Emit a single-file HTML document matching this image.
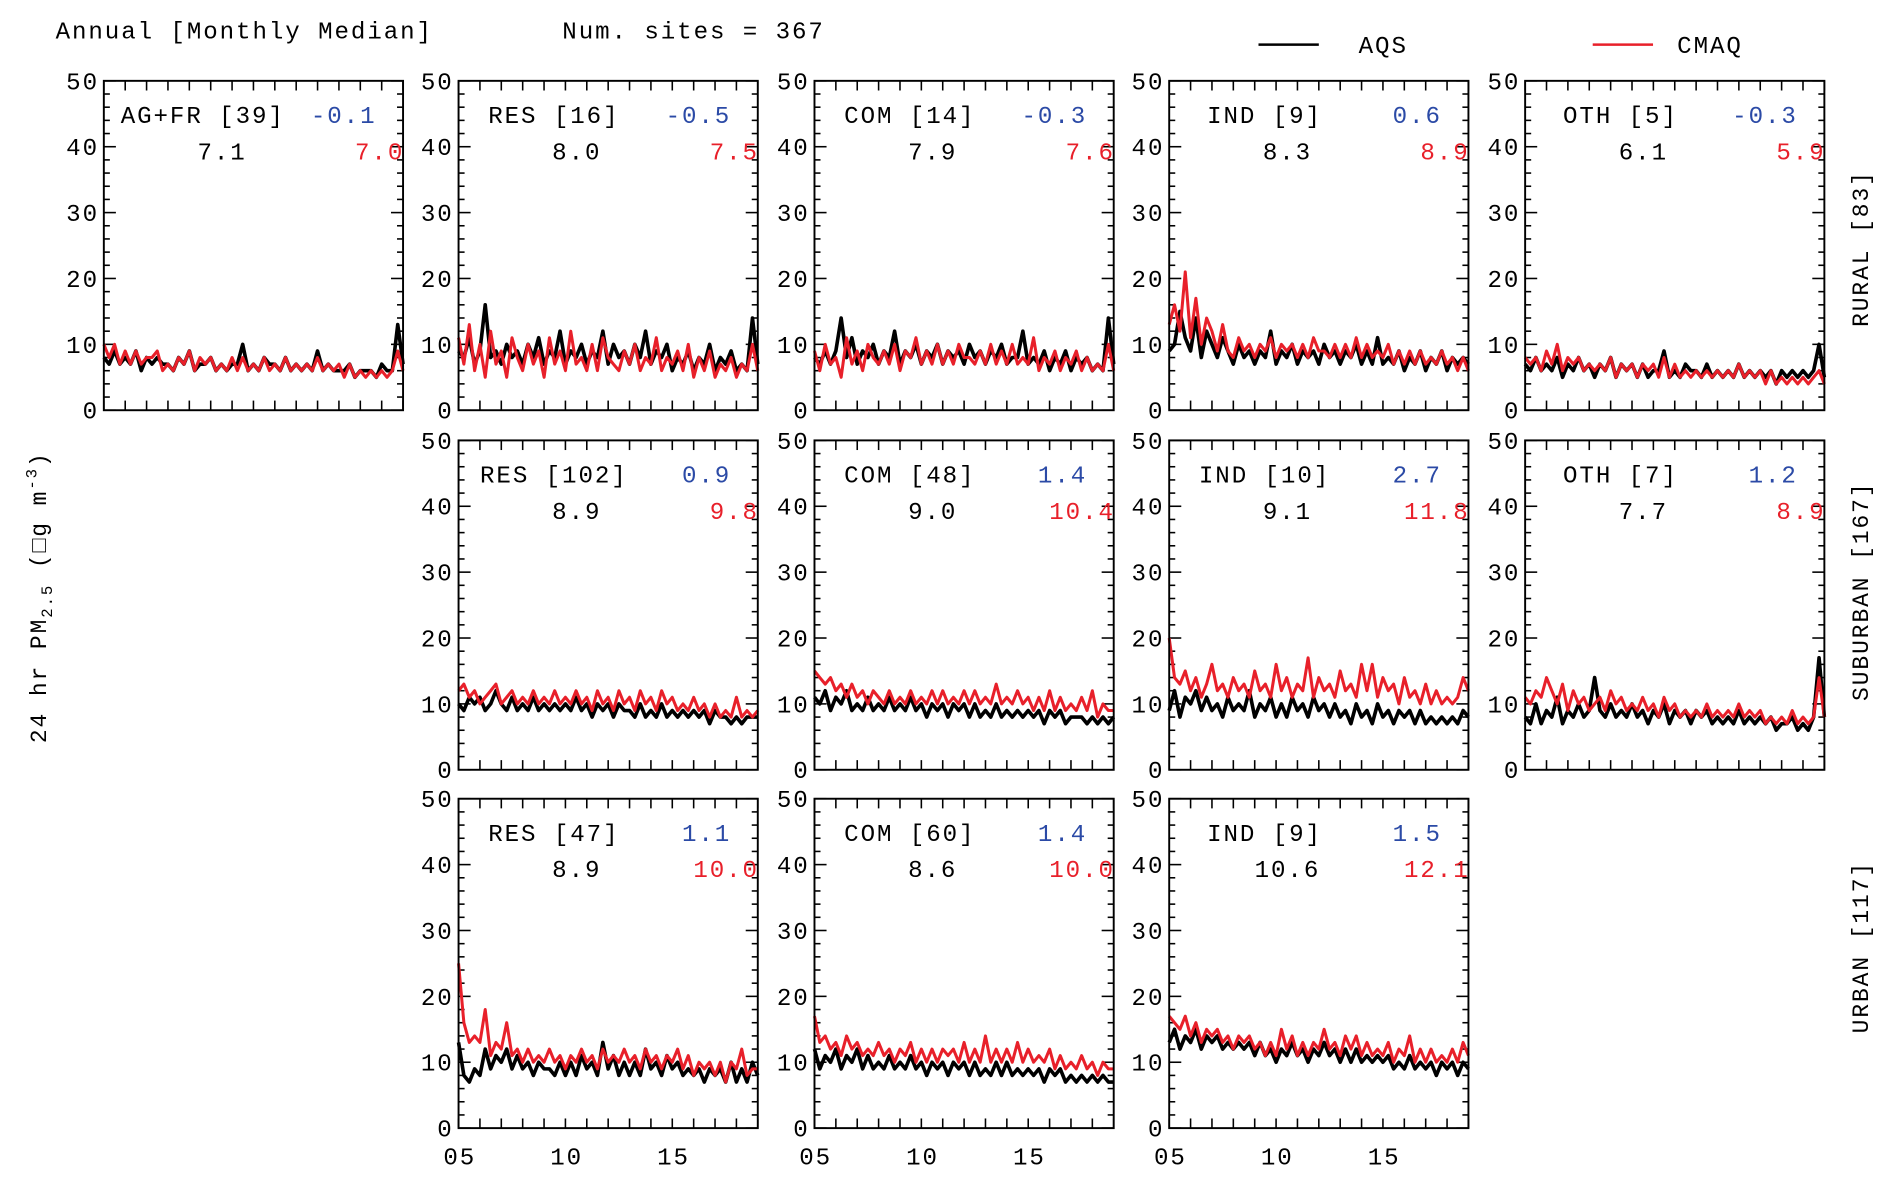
<!DOCTYPE html>
<html><head><meta charset="utf-8"><style>
html,body{margin:0;padding:0;background:#fff;}
svg{display:block;font-family:"Liberation Mono","DejaVu Sans Mono",monospace;}
svg text{letter-spacing:1.6px;}
</style></head><body>
<svg id="fig" width="1892" height="1180" viewBox="0 0 1568 978" xmlns="http://www.w3.org/2000/svg">
<text x="46" y="32" font-size="20">Annual [Monthly Median]</text>
<text x="466" y="32" font-size="20">Num. sites = 367</text>
<line x1="1043" y1="37" x2="1093" y2="37" stroke="#000" stroke-width="2"/>
<text x="1126" y="44" font-size="20">AQS</text>
<line x1="1320" y1="37" x2="1370" y2="37" stroke="#e8202a" stroke-width="2"/>
<text x="1390" y="44" font-size="20">CMAQ</text>
<text transform="translate(38,495) rotate(-90)" text-anchor="middle" font-size="19">24 hr PM<tspan font-size="13" dy="5">2.5</tspan><tspan dy="-5"> (□g m</tspan><tspan font-size="13" dy="-8">-3</tspan><tspan dy="8">)</tspan></text>
<text transform="translate(1548,206) rotate(-90)" text-anchor="middle" font-size="19">RURAL [83]</text>
<text transform="translate(1548,490) rotate(-90)" text-anchor="middle" font-size="19">SUBURBAN [167]</text>
<text transform="translate(1548,785) rotate(-90)" text-anchor="middle" font-size="19">URBAN [117]</text>
<g id="panels"></g>
</svg>
<script>
const yTicks = [0,10,20,30,40,50];
const xTickLabels = ["05","10","15"];
const xTickYears = [2005,2010,2015];
const panelNames = ["AG+FR [39]","RES [16]","COM [14]","IND [9]","OTH [5]","RES [102]","COM [48]","IND [10]","OTH [7]","RES [47]","COM [60]","IND [9]"];
const panelBias = ["-0.1","-0.5","-0.3","0.6","-0.3","0.9","1.4","2.7","1.2","1.1","1.4","1.5"];
const panelAqsMean = ["7.1","8.0","7.9","8.3","6.1","8.9","9.0","9.1","7.7","8.9","8.6","10.6"];
const panelCmaqMean = ["7.0","7.5","7.6","8.9","5.9","9.8","10.4","11.8","8.9","10.0","10.0","12.1"];
const panelRow = [0,0,0,0,0,1,1,1,1,2,2,2];
const panelCol = [0,1,2,3,4,1,2,3,4,1,2,3];

const aqs0=[8,7,9,7,8,7,9,6,8,7,8,7,7,6,8,7,9,6,7,7,8,6,7,6,7,7,10,6,7,6,8,7,7,6,8,6,7,6,7,6,9,6,7,6,6,6,7,5,6,6,6,5,7,6,6,13,7];
const cmaq0=[10,8,10,7,9,7,9,7,8,8,9,6,7,6,8,7,9,6,8,7,8,6,7,6,8,6,8,6,7,6,8,6,7,6,8,6,7,6,7,6,8,6,7,6,7,5,7,5,6,5,6,5,6,5,6,9,6];
const aqs1=[9,8,11,7,9,16,8,9,7,10,8,9,7,10,8,11,7,9,8,12,7,9,8,10,7,9,8,12,7,10,8,9,7,10,8,12,7,9,8,10,6,8,7,9,6,8,7,10,6,8,7,9,6,7,6,14,7];
const cmaq1=[11,7,13,6,10,5,12,7,9,5,11,8,6,10,7,9,5,11,7,9,6,12,7,8,6,10,6,11,8,7,6,9,7,10,6,8,7,11,6,8,7,9,6,10,5,8,6,9,5,7,6,8,5,7,6,10,6];
const aqs2=[8,7,9,7,9,14,8,11,7,9,8,10,7,9,8,12,7,9,8,10,7,9,8,10,7,9,8,9,7,10,8,9,7,9,8,10,7,8,8,12,7,8,7,9,6,8,7,9,6,8,7,8,6,7,6,14,7];
const cmaq2=[9,6,10,7,8,5,11,7,9,6,10,8,7,9,7,10,6,9,8,11,7,9,7,10,7,9,7,10,8,8,7,9,7,10,7,9,7,10,7,8,7,11,6,8,7,9,6,8,7,9,6,8,6,7,6,10,6];
const aqs3=[9,10,15,11,9,14,8,12,10,8,11,9,7,10,8,9,7,9,8,12,7,9,8,10,7,9,8,9,7,10,8,9,7,9,8,10,7,9,7,11,7,8,7,9,6,8,7,9,6,8,7,9,6,8,7,8,7];
const cmaq3=[13,16,12,21,11,17,10,14,12,9,13,9,8,11,9,10,8,10,9,11,8,10,9,10,8,10,8,11,9,9,8,10,8,10,8,11,8,10,8,9,8,10,7,9,7,9,7,9,7,8,7,9,7,8,6,8,6];
const aqs4=[7,6,8,6,7,6,8,5,7,6,8,6,7,5,7,6,8,5,7,6,7,5,7,5,6,6,9,5,6,5,7,6,6,5,7,5,6,5,6,5,7,5,6,5,6,5,6,4,6,5,6,5,6,5,6,10,5];
const cmaq4=[8,7,8,6,9,7,10,6,8,7,8,6,7,6,7,6,8,5,7,6,7,5,7,6,7,5,8,5,7,5,6,5,6,5,6,5,6,5,6,5,7,5,6,5,6,4,6,4,5,4,5,4,5,4,5,6,4];
const aqs5=[10,9,11,10,11,9,10,12,10,9,11,9,10,9,11,9,10,9,10,9,10,9,11,9,10,8,10,9,10,8,10,9,9,8,10,8,9,8,10,8,9,8,9,8,9,8,9,7,9,8,8,7,8,7,8,8,8];
const cmaq5=[12,13,11,12,10,11,12,13,10,11,12,10,11,10,12,10,11,10,12,10,11,10,12,10,11,9,12,10,11,9,12,10,11,9,12,10,11,9,12,10,11,9,10,9,11,9,10,8,10,8,9,8,11,8,9,8,9];
const aqs6=[11,10,12,9,11,10,12,9,10,9,11,9,10,9,11,9,10,9,11,9,10,8,10,9,10,8,10,9,10,8,10,8,9,8,10,8,9,8,9,8,9,8,9,7,9,8,9,7,8,8,8,7,8,7,8,7,8];
const cmaq6=[15,14,13,14,12,13,11,13,11,12,10,12,11,10,12,10,11,10,12,10,11,10,12,10,12,10,11,10,12,10,12,10,11,10,13,10,11,10,12,10,11,9,11,9,12,9,11,9,10,9,11,9,12,8,10,9,9];
const aqs7=[9,12,8,11,10,12,9,11,9,10,8,11,9,10,9,12,8,10,9,11,8,10,8,11,9,10,8,11,9,10,8,10,8,9,7,10,8,9,7,10,8,9,7,9,8,9,7,9,7,8,7,8,7,8,7,9,8];
const cmaq7=[20,14,13,15,12,14,11,13,16,12,13,11,14,12,13,11,15,12,13,11,16,12,14,11,13,12,17,11,14,12,13,11,15,12,13,11,16,12,16,11,14,12,13,10,14,11,12,10,13,10,12,10,11,10,11,14,12];
const aqs8=[8,7,10,7,9,8,11,7,9,8,10,8,9,14,9,8,10,8,9,8,10,8,9,7,9,8,10,7,9,8,9,7,9,8,9,7,8,7,8,7,9,7,8,7,8,7,8,6,7,7,8,6,7,6,8,17,8];
const cmaq8=[11,10,12,11,14,12,10,13,9,12,10,11,9,10,11,9,12,10,11,9,10,9,11,9,10,8,11,9,10,8,9,8,9,8,10,8,9,8,9,8,10,8,9,8,9,7,8,7,8,7,9,7,8,7,8,14,8];
const aqs9=[13,8,7,9,8,12,9,11,10,12,9,11,9,10,8,10,9,9,8,10,8,10,8,11,9,10,8,13,9,11,8,10,8,10,8,12,9,10,8,11,9,10,8,9,8,9,7,9,8,9,7,10,7,9,7,10,8];
const cmaq9=[25,16,13,14,13,18,11,13,12,16,11,12,10,12,10,11,10,12,10,11,9,11,10,12,10,11,9,12,10,11,10,12,10,11,9,12,10,11,9,11,10,12,9,11,8,10,9,10,8,10,7,10,9,12,8,9,9];
const aqs10=[12,9,11,10,12,9,11,10,12,9,11,9,10,9,11,9,10,9,11,9,10,8,10,9,10,8,10,9,10,8,10,8,9,8,10,8,10,8,9,8,9,8,9,7,9,8,9,7,8,7,8,7,8,7,8,7,7];
const cmaq10=[17,13,14,12,13,11,14,12,13,11,12,11,13,11,12,10,12,11,13,10,12,10,12,10,12,11,12,10,13,10,12,10,14,10,12,10,12,10,13,10,12,10,11,10,12,9,11,9,10,9,11,9,10,8,10,9,9];
const aqs11=[13,15,12,14,13,15,12,14,13,14,12,13,12,13,12,13,11,13,11,12,10,12,11,13,11,12,10,12,11,13,11,12,10,12,10,12,10,11,10,11,10,11,9,10,9,11,9,10,9,10,8,10,9,10,8,10,9];
const cmaq11=[17,16,15,17,14,16,13,15,14,15,13,14,12,14,13,14,12,13,11,13,11,15,12,14,11,13,11,13,12,15,12,13,11,14,12,14,11,13,11,12,11,13,10,12,11,14,10,12,10,12,10,11,10,12,10,13,11];
const aqsSeries=[aqs0,aqs1,aqs2,aqs3,aqs4,aqs5,aqs6,aqs7,aqs8,aqs9,aqs10,aqs11];
const cmaqSeries=[cmaq0,cmaq1,cmaq2,cmaq3,cmaq4,cmaq5,cmaq6,cmaq7,cmaq8,cmaq9,cmaq10,cmaq11];

const NS="http://www.w3.org/2000/svg";
const colX=[86,380,675,969,1264], rowY=[67,365,662], PW=248, PH=273;
const root=document.getElementById('panels');
function mk(tag,attrs,parent){const e=document.createElementNS(NS,tag);for(const k in attrs)e.setAttribute(k,attrs[k]);parent.appendChild(e);return e;}
for(let p=0;p<panelNames.length;p++){
  const x0=colX[panelCol[p]], y0=rowY[panelRow[p]];
  const g=mk('g',{},root);
  
  
  const xs=t=>x0+(t-2005)/14*PW;
  const ys=v=>y0+PH-v/50*PH;
  for(let v=0;v<=50;v+=2){const len=(v%10===0)?10:5;const yy=ys(v);
    mk('line',{x1:x0,y1:yy,x2:x0+len,y2:yy,stroke:'#000','stroke-width':1.3},g);
    mk('line',{x1:x0+PW,y1:yy,x2:x0+PW-len,y2:yy,stroke:'#000','stroke-width':1.3},g);}
  for(let yr=2005;yr<=2019;yr++){const xx=xs(yr);
    mk('line',{x1:xx,y1:y0,x2:xx,y2:y0+8,stroke:'#000','stroke-width':1.3},g);
    mk('line',{x1:xx,y1:y0+PH,x2:xx,y2:y0+PH-8,stroke:'#000','stroke-width':1.3},g);}
  for(let i=0;i<yTicks.length;i++){
    const t=mk('text',{x:x0-4,y:ys(yTicks[i])+7,'text-anchor':'end','font-size':20},g);
    
    
    t.textContent=yTicks[i];}
  if(panelRow[p]===2){for(let i=0;i<xTickLabels.length;i++){
    const t=mk('text',{x:xs(xTickYears[i])+1,y:y0+PH+30,'text-anchor':'middle','font-size':20},g);
    
    
    t.textContent=xTickLabels[i];}}
  const line=(arr,col,w,name)=>{const n=arr.length;let d='';
    arr.forEach((v,i)=>{d+=(i?'L':'M')+xs(2005+i*14/(n-1)).toFixed(1)+','+ys(v).toFixed(1);});
    const pth=mk('path',{d:d,fill:'none',stroke:col,'stroke-width':w,'stroke-linejoin':'round'},g);
    
    };
  line(aqsSeries[p],'#000',3,'aqs-line');
  line(cmaqSeries[p],'#e8202a',2.5,'cmaq-line');
  const fr=mk('rect',{x:x0,y:y0,width:PW,height:PH,fill:'none',stroke:'#000','stroke-width':1.6},g);
  
  
  const isAg=p===0;
  const t1=mk('text',{x:isAg?x0+14:x0+PW/2-45,y:y0+35,'text-anchor':isAg?'start':'middle','font-size':20},g);
  
  
  t1.textContent=panelNames[p];
  const t2=mk('text',{x:x0+PW-22,y:y0+35,'text-anchor':'end','font-size':20,fill:'#2b4aa6'},g);
  
  
  t2.textContent=panelBias[p];
  const t3=mk('text',{x:x0+PW/2-26,y:y0+65,'text-anchor':'middle','font-size':20},g);
  
  
  t3.textContent=panelAqsMean[p];
  const t4=mk('text',{x:x0+PW+1,y:y0+65,'text-anchor':'end','font-size':20,fill:'#e8202a'},g);
  
  
  t4.textContent=panelCmaqMean[p];
}
</script>
</body></html>
